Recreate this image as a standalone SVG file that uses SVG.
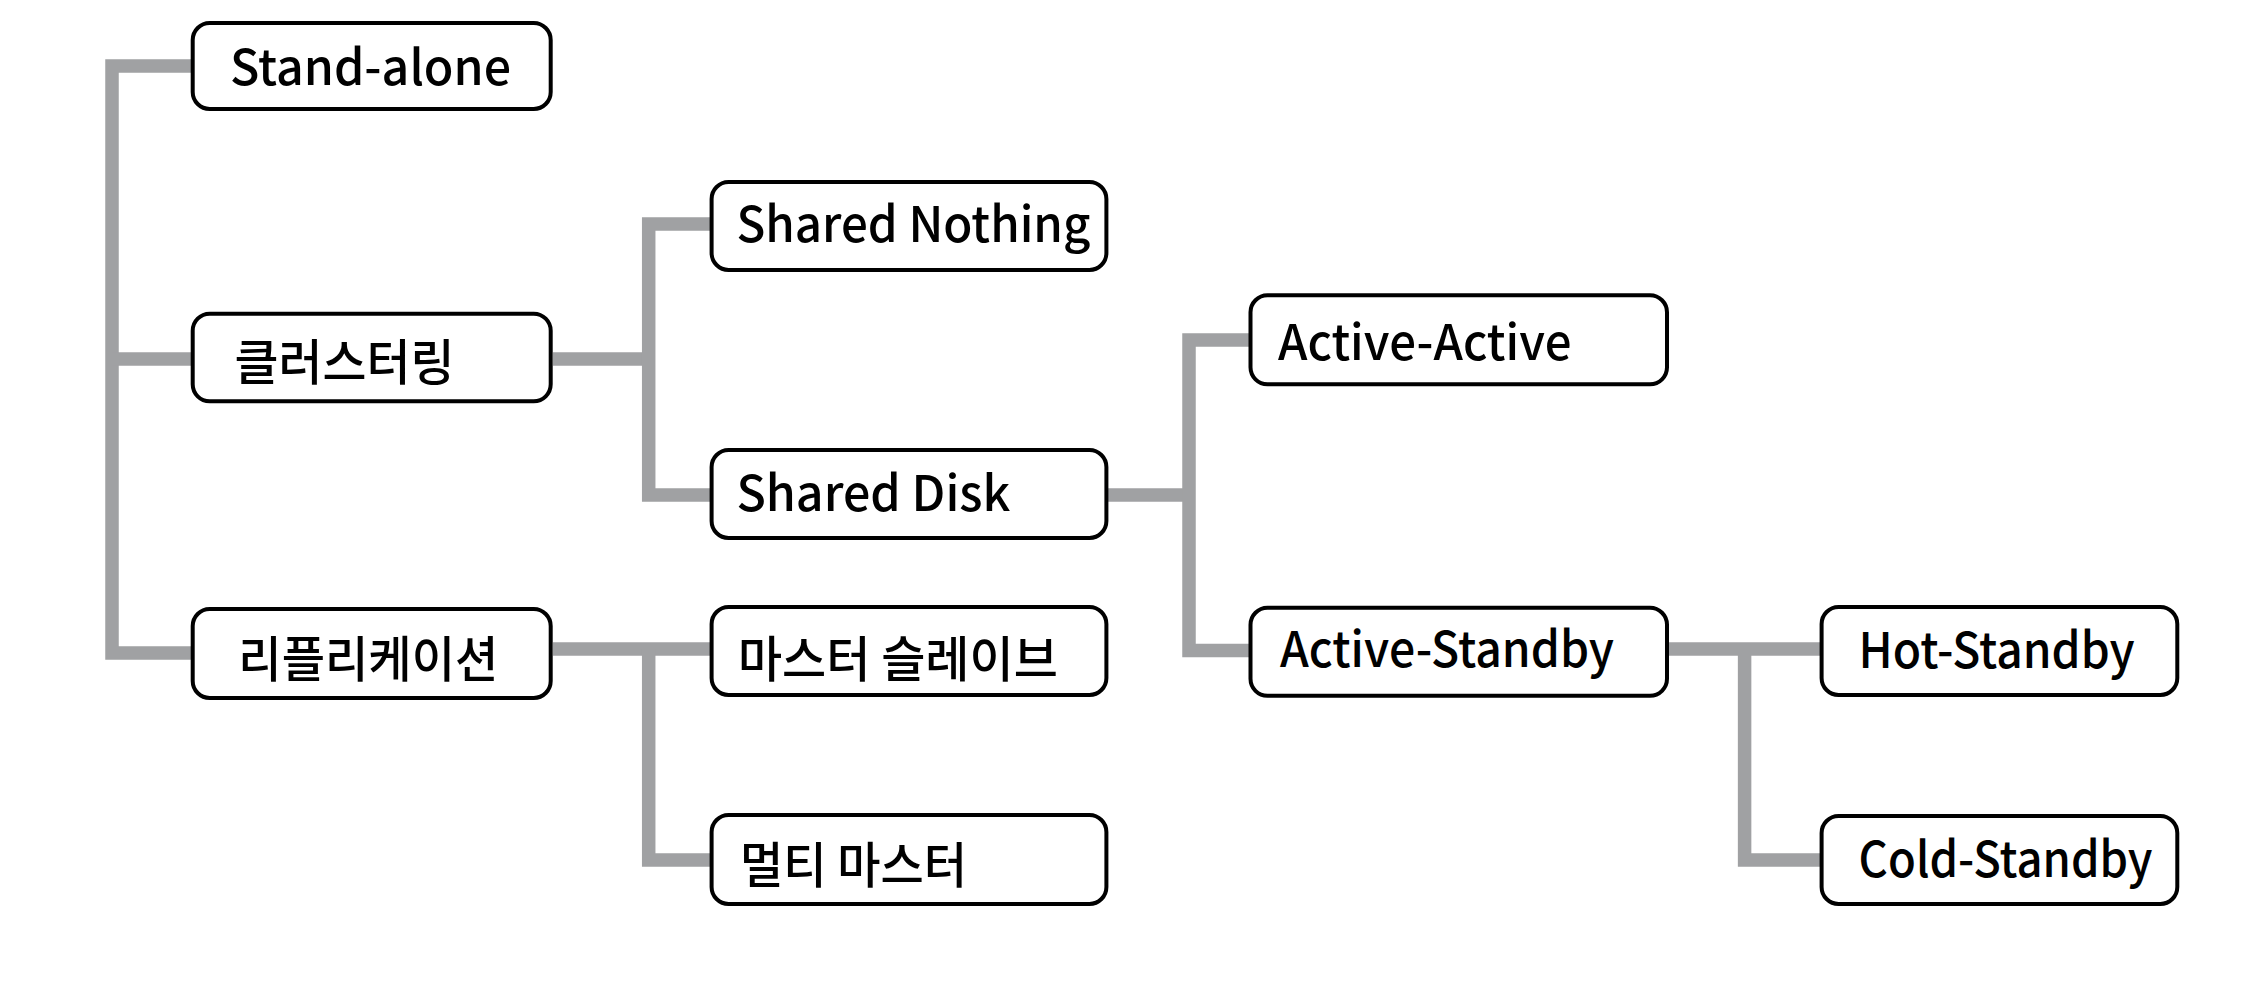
<svg xmlns="http://www.w3.org/2000/svg" width="2264" height="1000" viewBox="0 0 2264 1000">
<style>
.bg{fill:#ffffff}
.conn path{fill:none;stroke:#a0a1a3;stroke-width:13.5;stroke-linejoin:miter;stroke-linecap:butt}
.box{fill:#ffffff;stroke:#000000;stroke-width:4}
.lbl{font-family:"Noto Sans CJK KR","Noto Sans",sans-serif;font-size:49px;font-weight:500;fill:#000000}
</style>
<rect class="bg" x="0" y="0" width="2264" height="1000"/>
<g id="connectors" class="conn">
<path d="M191,66 H112 V653 H191"/>
<path d="M112,359 H191"/>
<path d="M553,359 H648.7"/>
<path d="M710,224 H648.7 V495 H710"/>
<path d="M553,649 H710"/>
<path d="M648.7,649 V860 H710"/>
<path d="M1108,495 H1189"/>
<path d="M1250,340 H1189 V650.5 H1250"/>
<path d="M1668,649 H1821"/>
<path d="M1744.6,649 V860 H1821"/>
</g>
<g id="n-standalone"><rect class="box" x="192.7" y="23" width="358" height="86" rx="17"/><text class="lbl" x="230" y="85" textLength="281" lengthAdjust="spacingAndGlyphs">Stand-alone</text></g>
<g id="n-clustering"><rect class="box" x="192.7" y="313.7" width="358" height="87.6" rx="17"/><text class="lbl" x="234.6" y="379.5" textLength="220" lengthAdjust="spacingAndGlyphs">클러스터링</text></g>
<g id="n-replication"><rect class="box" x="192.7" y="609" width="358" height="89" rx="17"/><text class="lbl" x="238.3" y="676.5" textLength="260" lengthAdjust="spacingAndGlyphs">리플리케이션</text></g>
<g id="n-sharednothing"><rect class="box" x="711.6" y="182" width="394.8" height="88" rx="17"/><text class="lbl" x="736.4" y="241.7" textLength="354" lengthAdjust="spacingAndGlyphs">Shared Nothing</text></g>
<g id="n-shareddisk"><rect class="box" x="711.6" y="450" width="394.8" height="88" rx="17"/><text class="lbl" x="736.4" y="511" textLength="274" lengthAdjust="spacingAndGlyphs">Shared Disk</text></g>
<g id="n-masterslave"><rect class="box" x="711.6" y="607" width="394.8" height="88" rx="17"/><text class="lbl" x="737.9" y="676.5" textLength="320" lengthAdjust="spacingAndGlyphs">마스터 슬레이브</text></g>
<g id="n-multimaster"><rect class="box" x="711.6" y="815" width="394.8" height="89" rx="17"/><text class="lbl" x="740" y="883" textLength="227" lengthAdjust="spacingAndGlyphs">멀티 마스터</text></g>
<g id="n-activeactive"><rect class="box" x="1250.5" y="295.3" width="416.5" height="89" rx="17"/><text class="lbl" x="1278" y="360" textLength="293.5" lengthAdjust="spacingAndGlyphs">Active-Active</text></g>
<g id="n-activestandby"><rect class="box" x="1250.5" y="607.8" width="416.5" height="88" rx="17"/><text class="lbl" x="1280" y="667.4" textLength="334" lengthAdjust="spacingAndGlyphs">Active-Standby</text></g>
<g id="n-hotstandby"><rect class="box" x="1821.6" y="607" width="355.7" height="88" rx="17"/><text class="lbl" x="1858.6" y="668.3" textLength="276" lengthAdjust="spacingAndGlyphs">Hot-Standby</text></g>
<g id="n-coldstandby"><rect class="box" x="1821.6" y="816" width="355.7" height="88" rx="17"/><text class="lbl" x="1858.6" y="877.3" textLength="294" lengthAdjust="spacingAndGlyphs">Cold-Standby</text></g>
</svg>
